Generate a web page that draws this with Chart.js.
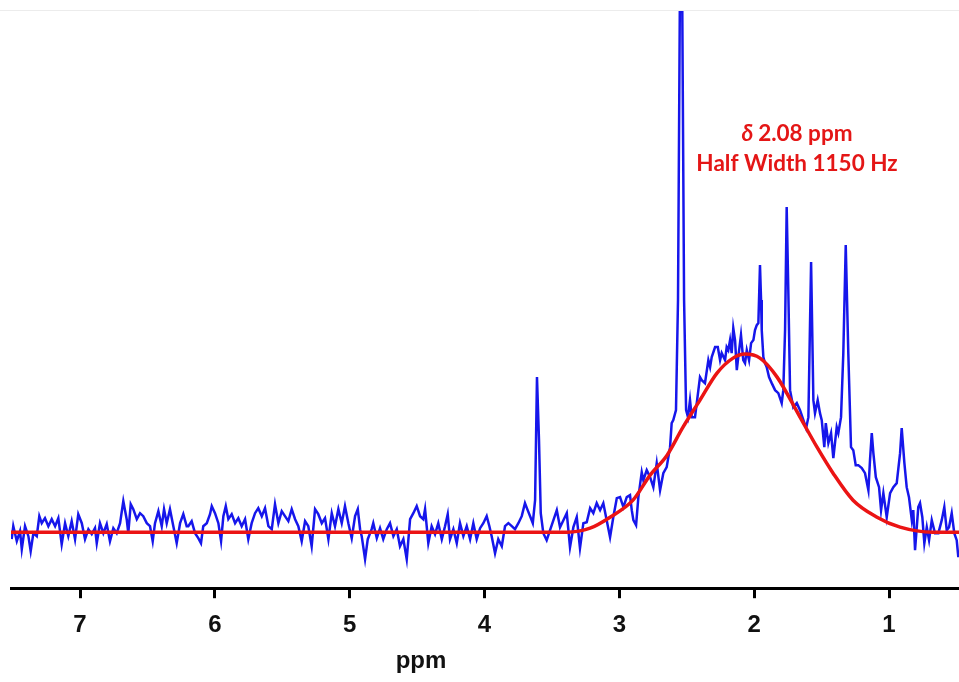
<!DOCTYPE html>
<html>
<head>
<meta charset="utf-8">
<script src="https://cdn.jsdelivr.net/npm/chart.js@4/dist/chart.umd.min.js"></script>
<style>
  html, body { margin: 0; padding: 0; background: #fff; }
  #wrap { width: 959px; height: 682px; position: relative; }
</style>
</head>
<body>
<div id="wrap"><canvas id="spectrum"></canvas></div>
<script>
const shiftPpm = [
  7.507, 7.495, 7.469, 7.445, 7.432, 7.408, 7.383, 7.366, 7.346, 7.321,
  7.302, 7.284, 7.260, 7.235, 7.210, 7.185, 7.161, 7.136, 7.111, 7.087,
  7.062, 7.037, 7.013, 6.987, 6.963, 6.938, 6.913, 6.889, 6.876, 6.852,
  6.827, 6.802, 6.778, 6.753, 6.728, 6.703, 6.679, 6.654, 6.642, 6.624,
  6.605, 6.579, 6.555, 6.531, 6.505, 6.481, 6.461, 6.444, 6.419, 6.394,
  6.377, 6.357, 6.333, 6.308, 6.283, 6.258, 6.234, 6.209,
  6.197, 6.172, 6.147, 6.123, 6.103, 6.086, 6.060, 6.036, 6.023, 5.999,
  5.974, 5.954, 5.937, 5.919, 5.900, 5.875, 5.850, 5.826, 5.801, 5.776,
  5.752, 5.727, 5.702, 5.678, 5.652, 5.628, 5.603, 5.578, 5.554, 5.529,
  5.504, 5.480, 5.455, 5.430, 5.405, 5.381, 5.356, 5.331, 5.307, 5.282,
  5.257, 5.233, 5.207, 5.183, 5.158, 5.133, 5.109, 5.084, 5.059, 5.035,
  5.010, 4.985, 4.960, 4.940, 4.923, 4.911, 4.886, 4.866, 4.837,
  4.825, 4.799, 4.775, 4.751, 4.725, 4.701, 4.676, 4.651, 4.627, 4.602,
  4.577, 4.552, 4.528, 4.503, 4.478, 4.454, 4.441, 4.417, 4.392, 4.367,
  4.343, 4.317, 4.293, 4.273, 4.256, 4.231, 4.206, 4.182, 4.157, 4.132,
  4.107, 4.083, 4.058, 4.033, 4.009, 3.984, 3.964, 3.947, 3.922, 3.898,
  3.872, 3.848, 3.823, 3.798, 3.774, 3.749, 3.724, 3.700, 3.683, 3.662,
  3.642,
  3.625, 3.611, 3.596, 3.583, 3.564, 3.539, 3.514, 3.464, 3.440, 3.415,
  3.390, 3.366, 3.341, 3.316, 3.292, 3.267, 3.242, 3.217, 3.193, 3.168,
  3.143, 3.119, 3.094, 3.069, 3.045, 3.019, 2.995, 2.970, 2.945, 2.921,
  2.908, 2.896, 2.876, 2.859, 2.834, 2.822, 2.797, 2.772, 2.748, 2.723,
  2.698, 2.674, 2.649, 2.624, 2.612, 2.600, 2.580,
  2.565, 2.550, 2.535, 2.520, 2.505, 2.491, 2.476, 2.463, 2.439, 2.414,
  2.402, 2.389, 2.365, 2.340, 2.327, 2.315, 2.290, 2.270, 2.253, 2.241,
  2.216, 2.204, 2.192, 2.179, 2.167, 2.155, 2.142, 2.129, 2.118, 2.098,
  2.081, 2.068, 2.055, 2.038, 2.023, 2.006, 1.994, 1.981, 1.969, 1.957,
  1.949, 1.944, 1.932, 1.920, 1.907, 1.890, 1.870, 1.845, 1.821, 1.796,
  1.784, 1.771, 1.759, 1.747, 1.734, 1.710, 1.684, 1.660, 1.635, 1.615,
  1.598, 1.578, 1.561, 1.549, 1.529, 1.512, 1.499, 1.480, 1.469, 1.450,
  1.430, 1.413, 1.388, 1.376, 1.356, 1.339, 1.321, 1.302, 1.282, 1.265,
  1.247, 1.228, 1.202, 1.178, 1.153, 1.141, 1.128, 1.116, 1.098, 1.074,
  1.059, 1.042, 1.017, 0.992, 0.968, 0.943, 0.918, 0.906, 0.886, 0.869,
  0.852, 0.831, 0.820, 0.807, 0.783, 0.770, 0.753, 0.738, 0.720, 0.703,
  0.683, 0.659, 0.634, 0.609, 0.590, 0.572, 0.555, 0.535, 0.516, 0.498,
  0.486
];
const intensity = [
  -7, 6, -9, 1, -17, 6, -4, -19, -1, -4,
  16, 9, 14, 6, 13, 6, 14, -12, 9, -4,
  11, -7, 18, 9, -7, 3, -2, 4, -11, 9,
  -1, 8, -9, 4, -1, 9, 31, 13, -1, 28,
  23, 13, 19, 16, 9, 6, -9, 9, 21, 6,
  23, 9, 23, 6, -11, 9, 18, 6,
  6, 11, -1, -6, -11, 6, 9, 18, 26, 19,
  9, -9, 16, 26, 13, 18, 9, 14, 6, 13,
  -7, 9, 19, 24, 16, 24, 6, 3, 28, 9,
  21, 16, 11, 23, 13, 6, -9, 11, 6, -14,
  23, 18, 9, 14, -7, 19, 6, 23, 9, 26,
  9, -6, 16, 23, 3, -4, -27, -7, 3,
  9, -6, 4, -7, 3, 9, -4, 3, -14, -7,
  -27, 13, 19, 26, 16, 13, 23, -11, 6, -2,
  9, -7, 6, 18, -7, 3, -11, 9, -4, 6,
  -7, 9, -7, 4, 9, 16, 6, -4, -21, -7,
  -14, 6, 9, 6, 3, 9, 16, 29, 23, 16,
  9,
  32, 155, 92, 19, -1, -8, 2, 22, 5, 12,
  19, -15, 5, 15, -16, 9, 10, 24, 19, 29,
  22, 29, 12, -5, 15, 34, 35, 25, 35, 37,
  22, 12, 7, 35, 60, 52, 62, 55, 45, 69,
  42, 59, 65, 85, 109, 112, 122,
  232, 560, 560, 232, 122, 115, 132, 115, 115, 142,
  155, 152, 149, 172, 165, 175, 185, 185, 172, 179,
  172, 185, 182, 192, 179, 204, 192, 162, 175, 197,
  172, 169, 182, 172, 189, 192, 202, 207, 209, 267,
  232, 202, 175, 169, 165, 155, 149, 142, 139, 129,
  142, 202, 325, 242, 142, 125, 129, 122, 112, 104,
  115, 270, 132, 119, 132, 119, 112, 85, 109, 89,
  99, 74, 105, 99, 115, 179, 287, 179, 85, 82,
  67, 67, 64, 59, 42, 72, 99, 79, 55, 45,
  22, 39, 15, 39, 45, 49, 79, 104, 69, 45,
  35, 12, 22, -18, 25, 29, 15, -11, 5, -8,
  12, -1, -1, 12, 25, 2, 5, 19, -1, -8,
  -25
];

// fitted gaussian (red)
const fitPpm = [7.512, 5.368, 3.388, 3.217, 3.069, 2.899, 2.772, 2.646, 2.528, 2.402, 2.276, 2.157,
  2.068, 1.957, 1.830, 1.660, 1.534, 1.415, 1.267, 1.089, 0.918, 0.674, 0.481];
const fitIntensity = [0, 0, 0, 4, 15, 32, 57, 77, 105, 132, 159, 174,
  178, 174, 155, 115, 85, 59, 32, 15, 5, 0, 0];

const xTicks = [7, 6, 5, 4, 3, 2, 1];
const noteLines = ["2.08 ppm", "Half Width 1150 Hz"];

const ctx = document.getElementById("spectrum");

// annotation text, axis title and faint top line
const extras = {
  id: "extras",
  afterDraw(chart) {
    const c = chart.ctx;
    const area = chart.chartArea;
    c.save();
    c.strokeStyle = "#ececec";
    c.lineWidth = 1;
    c.beginPath();
    c.moveTo(0, area.top + 0.5);
    c.lineTo(chart.width, area.top + 0.5);
    c.stroke();

    c.fillStyle = "rgb(228,22,22)";
    c.textBaseline = "middle";
    const cx = 797;
    // first line: italic delta then value
    c.font = "italic bold 22.5px Lato";
    const dW = c.measureText("\u03b4 ").width;
    c.font = "bold 22.5px Lato";
    const tW = c.measureText(noteLines[0]).width;
    let sx = cx - (dW + tW) / 2;
    c.textAlign = "left";
    c.font = "italic bold 22.5px Lato";
    c.fillText("\u03b4 ", sx, 134);
    c.font = "bold 22.5px Lato";
    c.fillText(noteLines[0], sx + dW, 134);
    c.textAlign = "center";
    c.fillText(noteLines[1], cx, 164);

    c.fillStyle = "#111";
    c.font = "bold 24px 'Liberation Sans'";
    c.textBaseline = "alphabetic";
    c.fillText("ppm", 421, 668);
    c.restore();
  }
};

new Chart(ctx, {
  type: "line",
  data: {
    datasets: [
      {
        data: fitPpm.map((p, i) => ({ x: p, y: fitIntensity[i] })),
        borderColor: "rgb(235,20,20)",
        borderWidth: 3.5,
        pointRadius: 0,
        cubicInterpolationMode: "monotone",
        fill: false
      },
      {
        data: shiftPpm.map((p, i) => ({ x: p, y: intensity[i] })),
        borderColor: "rgb(22,22,235)",
        borderWidth: 2.5,
        pointRadius: 0,
        tension: 0,
        fill: false
      }
    ]
  },
  options: {
    responsive: true,
    maintainAspectRatio: false,
    animation: false,
    layout: {
      padding: { top: 10, left: 11, right: 0, bottom: 29 }
    },
    scales: {
      x: {
        type: "linear",
        position: "bottom",
        reverse: true,
        min: 0.481,
        max: 7.512,
        afterBuildTicks: (axis) => {
          axis.ticks = xTicks.map((v) => ({ value: v }));
        },
        ticks: {
          color: "#111",
          padding: 13,
          maxRotation: 0,
          font: { family: "'Liberation Sans'", size: 24, weight: "bold" }
        },
        grid: {
          drawOnChartArea: false,
          drawTicks: true,
          tickLength: 10,
          tickWidth: 3,
          tickColor: "#000"
        },
        border: { display: true, color: "#000", width: 3 }
      },
      y: {
        display: false,
        min: -56,
        max: 522
      }
    },
    plugins: {
      legend: { display: false },
      tooltip: { enabled: false }
    }
  },
  plugins: [extras]
});
</script>
</body>
</html>
